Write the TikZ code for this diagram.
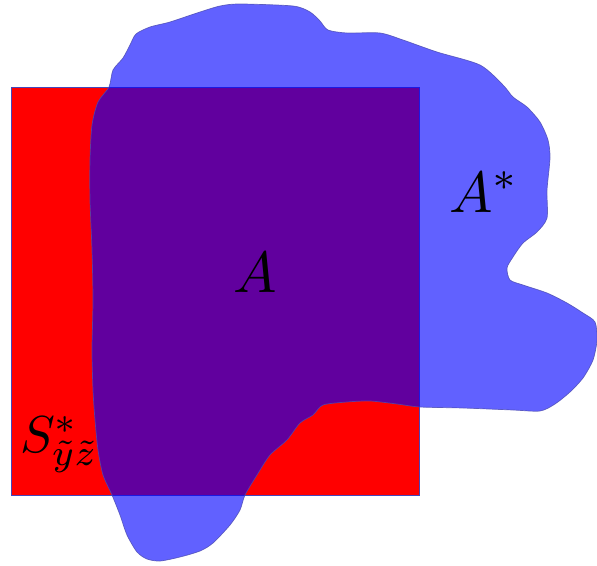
\documentclass[tikz,border=0pt]{standalone}
\begin{document}
\begin{tikzpicture}[x=1pt,y=-1pt,
  setfill/.style={fill=red, draw=blue!45!gray, line width=0.6pt},
  blobfill/.style={fill=blue, fill opacity=0.62, draw=blue!40!gray, draw opacity=0.8, line width=0.7pt},
  lbl/.style={scale=5.8, inner sep=0pt}]
\useasboundingbox (0,0) rectangle (597,565);
% the set S
\draw[setfill] (11,87) rectangle (419,495);
% the set A*
\draw[blobfill] plot[smooth cycle, tension=0.45] coordinates {
 (109,87) (113,70) (123,58) (130,45) (136,34) (150,27) (170,22) (197,13)
 (220,6) (240,4) (293,6) (310,12) (320,21) (328,30) (347,33) (380,33)
 (403,40) (437,52) (480,65) (503,85) (513,97) (527,107) (540,122) (548,140)
 (550,158) (547,190) (547,218) (537,232) (523,243) (513,257) (507,268)
 (510,280) (523,285) (547,293) (567,303) (583,313) (595,322) (597,340)
 (593,360) (583,378) (570,392) (555,404) (540,411) (513,410) (463,408)
 (420,407) (397,404) (370,401) (347,402) (323,405) (313,415) (300,423)
 (287,440) (270,455) (257,475) (245,495) (240,510) (230,525) (213,543)
 (200,551) (180,557) (160,561) (147,559) (137,552) (127,535) (120,515)
 (112,495) (103,475) (98,450) (95,420) (93,390) (92,350) (93,300) (92,250)
 (90,200) (90,160) (92,125) (98,102)};
% labels
\node[lbl, anchor=base] (a) at (255,292) {$A$};
\node[lbl, anchor=base west] (astar) at (448,212) {$A^*$};
\node[lbl, scale=5.2/5.8, anchor=base west] (s) at (19,452) {$S^*_{\tilde y\tilde z}$};
\end{tikzpicture}
\end{document}
